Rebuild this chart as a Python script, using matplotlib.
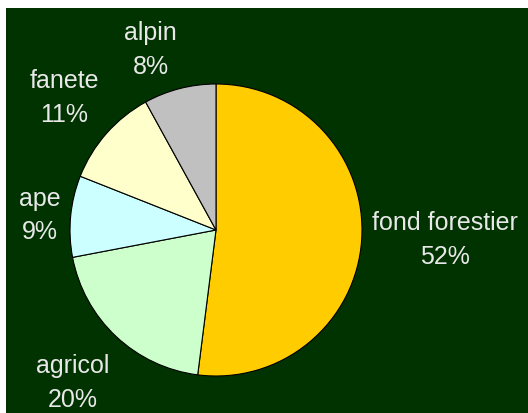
import numpy as np
import matplotlib
matplotlib.use('Agg')
import matplotlib.pyplot as plt
from matplotlib.patches import Rectangle

# land use shares (%)
categories = ['fond forestier', 'agricol', 'ape', 'fanete', 'alpin']
shares = [52, 20, 9, 11, 8]
colors = ['#FFCC00', '#CCFFCC', '#CCFFFF', '#FFFFCC', '#C0C0C0']

labels = [f"{c}\n{s}%" for c, s in zip(categories, shares)]

fig = plt.figure(figsize=(5.28, 4.13), dpi=100, facecolor='white')
# dark green plot area, white strip at top and left
fig.patches.append(Rectangle((6 / 528, 0), 1, 1 - 8 / 413, transform=fig.transFigure,
                             facecolor='#003300', edgecolor='none', zorder=-10))

# pie centre at about (216, 230) px, radius 146 px
r = 146
cx, cy = 216, 230
ax = fig.add_axes([(cx - r) / 528, (413 - cy - r) / 413, 2 * r / 528, 2 * r / 413])
ax.set_facecolor('none')

wedges, texts = ax.pie(shares, labels=labels, colors=colors, startangle=90,
                       counterclock=False, labeldistance=1.07,
                       wedgeprops=dict(edgecolor='black', linewidth=0.8),
                       textprops=dict(color='#E8E8E8', fontsize=18, linespacing=1.5,
                                      family='Liberation Sans', multialignment='center'))

for w, t in zip(wedges, texts):
    ang = np.deg2rad((w.theta1 + w.theta2) / 2)
    s = np.sin(ang)
    if s > 0.5:
        t.set_va('bottom')
    elif s < -0.5:
        t.set_va('top')
        t.set_y(t.get_position()[1] - 0.07)
    else:
        t.set_va('center')

ax.set_xlim(-1, 1)
ax.set_ylim(-1, 1)
ax.set_aspect('equal')
ax.axis('off')

fig.savefig('out.png', dpi=100, facecolor='white')
